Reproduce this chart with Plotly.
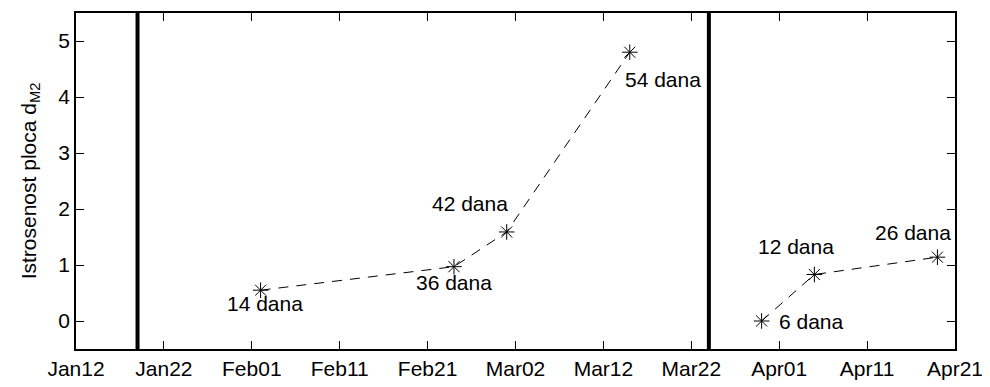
import plotly.graph_objects as go

# --- data ---
dates_a = ["2012-02-02", "2012-02-24", "2012-03-01", "2012-03-15"]
values_a = [0.55, 0.97, 1.59, 4.80]
labels_a = ["14 dana", "36 dana", "42 dana", "54 dana"]

dates_b = ["2012-03-30", "2012-04-05", "2012-04-19"]
values_b = [0.0, 0.83, 1.14]
labels_b = ["6 dana", "12 dana", "26 dana"]

event_dates = ["2012-01-19", "2012-03-24"]

tick_dates = ["2012-01-12", "2012-01-22", "2012-02-01", "2012-02-11", "2012-02-21",
              "2012-03-02", "2012-03-12", "2012-03-22", "2012-04-01", "2012-04-11",
              "2012-04-21"]
tick_labels = ["Jan12", "Jan22", "Feb01", "Feb11", "Feb21", "Mar02", "Mar12",
               "Mar22", "Apr01", "Apr11", "Apr21"]
y_ticks = [0, 1, 2, 3, 4, 5]

# label offsets in pixels (xshift, yshift, xanchor)
offs_a = [(4, -13, "center"), (0, -16, "center"), (-37, 28, "center"), (-7, -27, "left")]
offs_b = [(15, 0, "left"), (-18, 28, "center"), (-24, 25, "center")]

FONT = "Liberation Sans, Arial, Helvetica, sans-serif"
FS = 21

fig = go.Figure()
for xs, ys in [(dates_a, values_a), (dates_b, values_b)]:
    fig.add_trace(go.Scatter(
        x=xs, y=ys, mode="lines+markers",
        line=dict(color="black", width=1, dash="10px,8px"),
        marker=dict(symbol="asterisk-open", size=13, color="black",
                    line=dict(color="black", width=1)),
        showlegend=False, hoverinfo="x+y"))

for d in event_dates:
    fig.add_shape(type="line", x0=d, x1=d, y0=0, y1=1, xref="x", yref="paper",
                  line=dict(color="black", width=4))

for xs, ys, labs, offs in [(dates_a, values_a, labels_a, offs_a),
                           (dates_b, values_b, labels_b, offs_b)]:
    for x, y, t, (dx, dy, xa) in zip(xs, ys, labs, offs):
        fig.add_annotation(x=x, y=y, text=t, showarrow=False, xanchor=xa,
                           yanchor="middle", xshift=dx, yshift=dy,
                           font=dict(family=FONT, size=FS, color="black"))

# page body has an 8px margin, so the figure is sized/offset to compensate
fig.update_layout(
    width=982, height=379,
    margin=dict(l=68, r=35, t=3, b=38),
    paper_bgcolor="white", plot_bgcolor="white",
    font=dict(family=FONT, size=FS, color="black"),
)
fig.update_xaxes(
    type="date", range=["2012-01-12", "2012-04-21"],
    tickmode="array", tickvals=tick_dates, ticktext=tick_labels,
    ticks="inside", ticklen=8, tickwidth=1, tickcolor="black",
    showline=True, linecolor="black", linewidth=1.5, mirror="ticks",
    showgrid=False, zeroline=False,
    tickfont=dict(family=FONT, size=FS, color="black"),
)
fig.update_yaxes(
    range=[-0.5, 5.5], tickmode="array", tickvals=y_ticks,
    ticks="inside", ticklen=8, tickwidth=1, tickcolor="black",
    showline=True, linecolor="black", linewidth=1.5, mirror="ticks",
    showgrid=False, zeroline=False,
    tickfont=dict(family=FONT, size=FS, color="black"),
    title=dict(text="Istrosenost ploca d<sub>M2</sub>", standoff=16,
               font=dict(family=FONT, size=FS, color="black")),
)

fig.write_html("out.html")
